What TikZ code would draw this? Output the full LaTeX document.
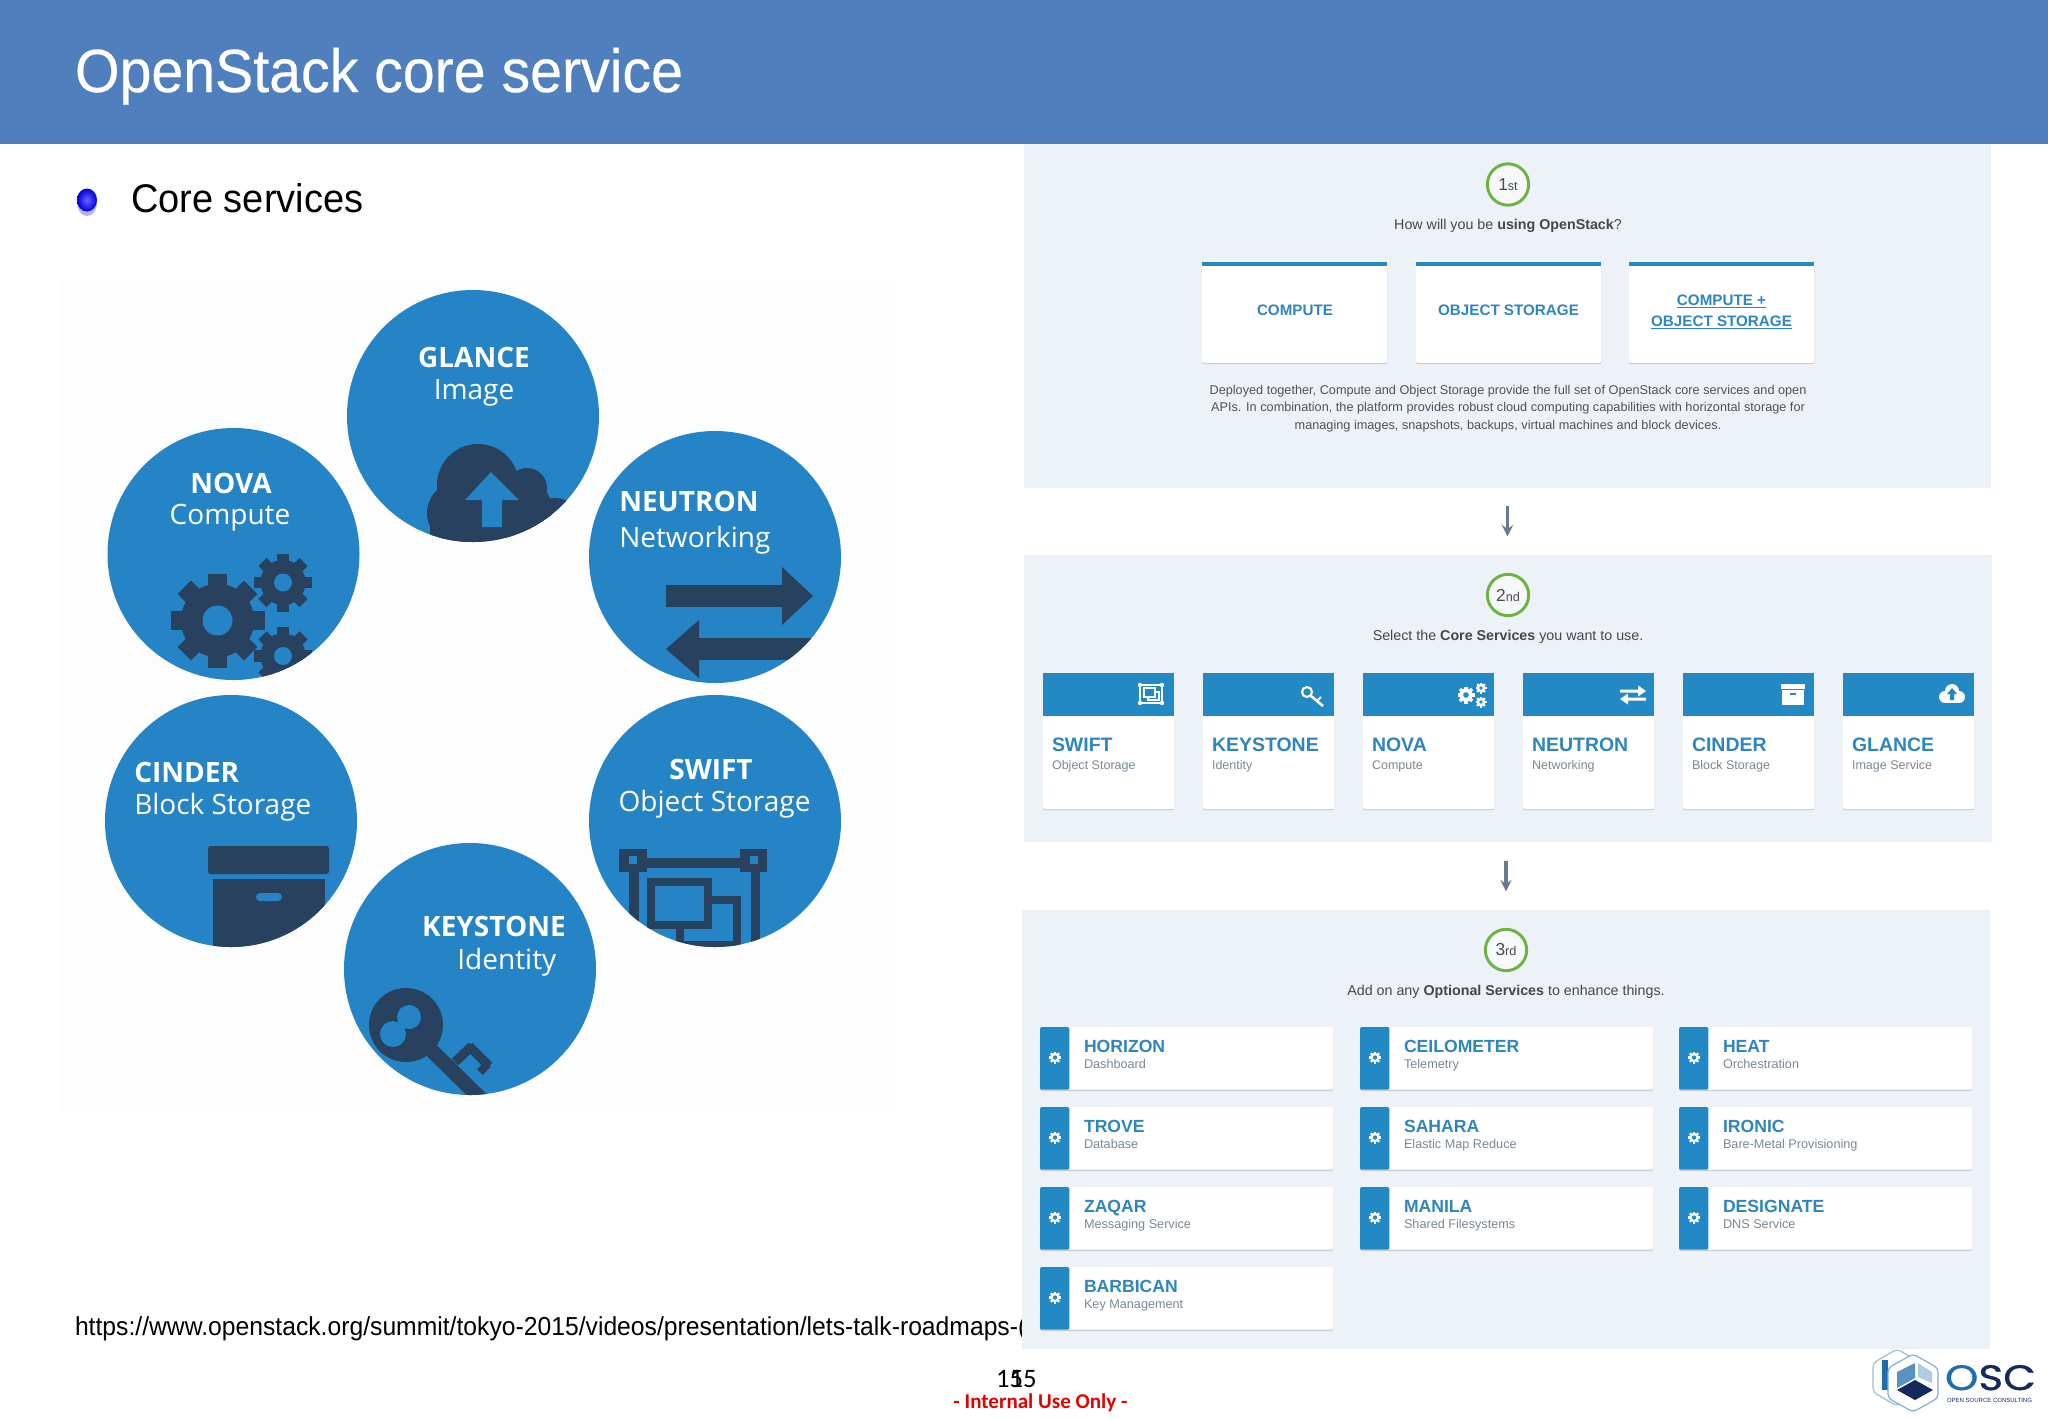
\documentclass[tikz,border=0pt]{standalone}
\usepackage{fontspec}
\setmainfont{Liberation Sans}
\newfontfamily\slidefont[FakeStretch=0.95]{Liberation Sans}
\newfontfamily\titlefont[FakeStretch=0.94,FakeBold=0.4]{Liberation Sans}
\newfontfamily\discfont{Open Sans}
\newfontfamily\footfont{Carlito}
\newfontfamily\oscfont[FakeStretch=1.2,FakeBold=1]{Poppins}
\usetikzlibrary{positioning,shadows}

\definecolor{headblue}{HTML}{4F7FBC}
\definecolor{discblue}{HTML}{2484C6}
\definecolor{discdark}{HTML}{27415F}
\definecolor{panelgrey}{HTML}{EDF2F9}
\definecolor{cardblue}{HTML}{2389C4}
\definecolor{nameblue}{HTML}{2E86BE}
\definecolor{subgrey}{HTML}{7A8894}
\definecolor{ringgreen}{HTML}{6CB33F}
\definecolor{oscblue}{HTML}{1E6DB0}
\definecolor{oscnavy}{HTML}{15295C}
\definecolor{picfaint}{HTML}{FDFDFE}

\tikzset{
  plain/.style={inner sep=0pt,outer sep=0pt,anchor=base},
  plainleft/.style={plain,anchor=base west},
  disc/.style={circle,fill=discblue,inner sep=0pt,minimum size=189pt},
  disctitle/.style={font=\discfont\bfseries\fontsize{21}{21}\selectfont,text=white,inner sep=0pt,anchor=base},
  discsub/.style={font=\discfont\fontsize{21}{21}\selectfont,text=white,inner sep=0pt,anchor=base},
  panelbox/.style={fill=panelgrey,inner sep=0pt,outer sep=0pt},
  stepring/.style={circle,draw=ringgreen,line width=2.2pt,fill=panelgrey!50!white,inner sep=0pt,minimum size=31pt,text=black!70},
  steptext/.style={plain,font=\fontsize{10.7}{12}\selectfont,text=black!72},
  card/.style={fill=white,rounded corners=1.5pt,inner sep=0pt,outer sep=0pt,anchor=north west,
    drop shadow={shadow xshift=0pt,shadow yshift=-1pt,opacity=0.14,fill=black}},
  usecard/.style={card,minimum width=139pt,minimum height=76pt},
  corecard/.style={card,minimum width=98.25pt,minimum height=102pt},
  optcard/.style={card,minimum width=219.75pt,minimum height=47pt},
  uselabel/.style={plain,font=\bfseries\fontsize{11.4}{12}\selectfont,text=nameblue},
  corename/.style={plainleft,font=\bfseries\fontsize{14.6}{15}\selectfont,text=nameblue},
  coresub/.style={plainleft,font=\fontsize{9.4}{10}\selectfont,text=subgrey},
  optname/.style={plainleft,font=\bfseries\fontsize{13.2}{14}\selectfont,text=nameblue},
  optsub/.style={plainleft,font=\fontsize{9.5}{10}\selectfont,text=subgrey},
  flowarrow/.style={-stealth,line width=2.7pt,draw=discdark!70!white},
}

\newcommand{\gearicon}[6]{
  \foreach \a in {0,45,...,315}
  {
    \fill[#5,rotate around={\a:(#1,#2)}] (#1-#3*0.2,#2) rectangle (#1+#3*0.2,#2-#3);
  }
  \fill[#5] (#1,#2) circle[radius=#3*0.78];
  \fill[#6] (#1,#2) circle[radius=#4];
}
\newcommand{\stepmark}[2]{{\fontsize{13}{13}\selectfont #1}{\fontsize{9.5}{9}\selectfont #2}}

\begin{document}
\begin{tikzpicture}[x=0.75pt,y=-0.75pt]
    \useasboundingbox (0,0) rectangle (2048,1418);

    % header
    \fill[headblue] (0,0) rectangle (2048,144);
    \node[plainleft,font=\titlefont\fontsize{45.7}{46}\selectfont,text=white] (title) at (75,92) {OpenStack core service};
    \fill[blue!30!white] (87,203) ellipse (10 and 13);
    \shade[inner color=blue!60!white,outer color=blue!85!black] (87,200) ellipse (10 and 11.5);
    \node[plainleft,font=\slidefont\fontsize{30}{30}\selectfont] (bullet) at (131,212.5) {Core services};

    % left picture
    \fill[picfaint] (60,281) rectangle (895,1113);
    \node[disc] (discglance) at (473,416) {};
    \node[disc] (discnova) at (233.5,554) {};
    \node[disc] (discneutron) at (715,557) {};
    \node[disc] (disccinder) at (231,821) {};
    \node[disc] (discswift) at (715,821) {};
    \node[disc] (disckeystone) at (470,969) {};

    \begin{scope}
      \clip (473,416) circle[radius=126];
      \fill[discdark] (478,485) circle[radius=41];
      \fill[discdark] (458,513) circle[radius=31];
      \fill[discdark] (527,488) circle[radius=20];
      \fill[discdark] (520,510) circle[radius=32];
      \fill[discdark] (555,525) circle[radius=27];
      \fill[discdark] (430,515) rectangle (590,560);
      \fill[discblue] (491,472) -- (519,500) -- (502,500) -- (502,527) -- (482,527) -- (482,500) -- (465,500) -- cycle;
    \end{scope}
    \begin{scope}
      \clip (233.5,554) circle[radius=126];
      \gearicon{217.5}{620.5}{47}{15}{discdark}{discblue}
      \gearicon{283}{582.5}{29}{9}{discdark}{discblue}
      \gearicon{283}{656}{29}{9}{discdark}{discblue}
    \end{scope}
    \begin{scope}
      \clip (715,557) circle[radius=126];
      \fill[discdark] (666,585) rectangle (783,607);
      \fill[discdark] (782,567) -- (813,596) -- (782,625) -- cycle;
      \fill[discdark] (699,638) rectangle (830,660);
      \fill[discdark] (699,620) -- (666,649) -- (699,678) -- cycle;
    \end{scope}
    \begin{scope}
      \clip (231,821) circle[radius=126];
      \fill[discdark,rounded corners=2pt] (208,846) rectangle (329,874);
      \fill[discdark] (213,879) rectangle (325,960);
      \fill[discblue,rounded corners=3pt] (256,893) rectangle (282,901);
    \end{scope}
    \begin{scope}
      \clip (715,821) circle[radius=126];
      \fill[discdark] (619,849) rectangle (647,872);
      \fill[discdark] (740,849) rectangle (767,872);
      \fill[discblue] (629,856) rectangle (637,864);
      \fill[discblue] (750,856) rectangle (758,864);
      \fill[discdark] (647,858) rectangle (740,868);
      \fill[discdark] (629,872) rectangle (639,960);
      \fill[discdark] (751,872) rectangle (760,960);
      \draw[discdark,line width=6pt] (651,882) rectangle (708,925);
      \draw[discdark,line width=6pt] (708,900) -- (737,900) -- (737,960);
      \draw[discdark,line width=6pt] (680,925) -- (680,945) -- (737,945);
    \end{scope}
    \begin{scope}
      \clip (470,969) circle[radius=126];
      \draw[discdark,line width=11pt] (418,1037) -- (482,1100);
      \fill[discdark] (406,1025) circle[radius=37];
      \fill[discblue] (393,1034) circle[radius=13];
      \fill[discblue] (409,1017) circle[radius=12];
      \draw[discdark,line width=7pt] (455,1062) -- (472,1046);
      \draw[discdark,line width=7pt] (469,1046) -- (489,1066);
      \draw[discdark,line width=6pt] (488,1064) -- (480,1072);
    \end{scope}

    \node[disctitle] (nameglance) at (474,367) {GLANCE};
    \node[discsub] (subglance) at (474,399) {Image};
    \node[disctitle] (namenova) at (231,493) {NOVA};
    \node[discsub] (subnova) at (230,524) {Compute};
    \node[disctitle,anchor=base west] (nameneutron) at (619,511) {NEUTRON};
    \node[discsub,anchor=base west] (subneutron) at (619,547) {Networking};
    \node[disctitle,anchor=base west] (namecinder) at (134,782) {CINDER};
    \node[discsub,anchor=base west] (subcinder) at (134,814) {Block Storage};
    \node[disctitle] (nameswift) at (711,779) {SWIFT};
    \node[discsub] (subswift) at (714.5,811) {Object Storage};
    \node[disctitle,anchor=base east] (namekeystone) at (566,936) {KEYSTONE};
    \node[discsub,anchor=base east] (subkeystone) at (556.5,969) {Identity};

    % footer
    \node[plainleft,font=\slidefont\fontsize{19.5}{20}\selectfont] (sourceurl) at (75,1335) {https://www.openstack.org/summit/tokyo-2015/videos/presentation/lets-talk-roadmaps-(};
    \node[plainleft,font=\footfont\fontsize{20}{20}\selectfont] (pageback) at (996,1387) {15};
    \node[plainleft,font=\footfont\fontsize{20}{20}\selectfont] (pagefront) at (1009.5,1387) {15};
    \node[plain,font=\footfont\bfseries\fontsize{15.8}{16}\selectfont,text=red!90!black] (internal) at (1040.5,1408) {- Internal Use Only -};

    % right panels
    \node[panelbox,minimum width=725.25pt,minimum height=258pt] (panelA) at (1507.5,316) {};
    \node[panelbox,minimum width=726pt,minimum height=215.25pt] (panelB) at (1508,698.5) {};
    \node[panelbox,minimum width=726pt,minimum height=329.25pt] (panelC) at (1506,1129.5) {};
    \draw[flowarrow,shorten <=13.5pt,shorten >=14pt] (panelA.south) -- (panelA.south |- panelB.north);
    \draw[flowarrow,shorten <=14pt,shorten >=14pt] (panelC.north |- panelB.south) -- (panelC.north);

    \node[stepring] (ringA) at (1508,184.5) {\stepmark{1}{st}};
    \node[stepring] (ringB) at (1508,595) {\stepmark{2}{nd}};
    \node[stepring] (ringC) at (1506,950) {\stepmark{3}{rd}};
    \node[steptext] (askA) at (1508,229) {How will you be \textbf{using OpenStack}?};
    \node[steptext] (askB) at (1508,640) {Select the \textbf{Core Services} you want to use.};
    \node[steptext] (askC) at (1506,995) {Add on any \textbf{Optional Services} to enhance things.};

    % first step
    \foreach \x/\i in {1202/a,1416/b,1629/c}
    {
      \node[usecard] (use\i) at (\x,261.5) {};
      \fill[cardblue] (use\i.north west) rectangle ([yshift=-3pt]use\i.north east);
    }
    \node[uselabel] (labela) at (1295,315.5) {COMPUTE};
    \node[uselabel] (labelb) at (1508.5,315.5) {OBJECT STORAGE};
    \node[uselabel] (labelc) at (1721.5,305) {\underline{COMPUTE +}};
    \node[uselabel] (labeld) at (1721.5,326) {\underline{OBJECT STORAGE}};
    \node[align=center,inner sep=0pt,font=\fontsize{9.53}{13.2}\selectfont,text=black!68] (blurb) at (1508,408.5)
      {Deployed together, Compute and Object Storage provide the full set of OpenStack core services and open\\
       APIs. In combination, the platform provides robust cloud computing capabilities with horizontal storage for\\
       managing images, snapshots, backups, virtual machines and block devices.};

    % second step
    \foreach \x/\cname/\csub in {1043/SWIFT/Object Storage,1203/KEYSTONE/Identity,1363/NOVA/Compute,1523/NEUTRON/Networking,1683/CINDER/Block Storage,1843/GLANCE/Image Service}
    {
      \node[corecard] (core\cname) at (\x,673) {};
      \fill[cardblue] (core\cname.north west) rectangle ([yshift=-32.25pt]core\cname.north east);
      \node[corename] (corename\cname) at (\x+9,751) {\cname};
      \node[coresub] (coresub\cname) at (\x+9,769) {\csub};
    }
    % icons of the cards
    \draw[white,line width=0.8pt] (1140,685) rectangle (1162,703);
    \draw[white,line width=0.8pt] (1144,688) rectangle (1155,697);
    \draw[white,line width=0.8pt] (1155,692) -- (1159,692) -- (1159,700) -- (1148,700) -- (1148,697);
    \foreach \x/\y in {1140/685,1162/685,1140/703,1162/703}
    {
      \fill[white] (\x,\y) circle[radius=2.2];
    }
    \draw[white,line width=1.6pt] (1307,692) circle[radius=5];
    \draw[white,line width=1.9pt] (1311,696) -- (1323,706);
    \draw[white,line width=1.4pt] (1317,701) -- (1321,697);
    \gearicon{1466}{695}{8.5}{2.8}{white}{cardblue}
    \gearicon{1481}{688}{5.5}{1.8}{white}{cardblue}
    \gearicon{1481}{702}{5.5}{1.8}{white}{cardblue}
    \fill[white] (1620,689.5) -- (1638,689.5) -- (1638,685.5) -- (1646,691) -- (1638,696.5) -- (1638,692.5) -- (1620,692.5) -- cycle;
    \fill[white] (1646,697.5) -- (1628,697.5) -- (1628,693.5) -- (1620,699) -- (1628,704.5) -- (1628,700.5) -- (1646,700.5) -- cycle;
    \fill[white] (1781,684) rectangle (1805,689);
    \fill[white] (1782,690) rectangle (1804,705);
    \fill[cardblue] (1790,693) rectangle (1796,694.5);
    \fill[white] (1952,691) circle[radius=7];
    \fill[white] (1945,697) circle[radius=6];
    \fill[white] (1959,697) circle[radius=6];
    \fill[white] (1945,697) rectangle (1959,703);
    \fill[cardblue] (1952,688) -- (1957,694) -- (1954,694) -- (1954,700) -- (1950,700) -- (1950,694) -- (1947,694) -- cycle;

    % third step
    \foreach \x/\y/\cname/\csub in {1040/1027/HORIZON/Dashboard,1360/1027/CEILOMETER/Telemetry,1679/1027/HEAT/Orchestration,
        1040/1107/TROVE/Database,1360/1107/SAHARA/Elastic Map Reduce,1679/1107/IRONIC/Bare-Metal Provisioning,
        1040/1187/ZAQAR/Messaging Service,1360/1187/MANILA/Shared Filesystems,1679/1187/DESIGNATE/DNS Service,
        1040/1267/BARBICAN/Key Management}
    {
      \node[optcard] (opt\cname) at (\x,\y) {};
      \fill[cardblue,rounded corners=1pt] (opt\cname.north west) rectangle ([xshift=22pt]opt\cname.south west);
      \gearicon{\x+15}{\y+30.5}{6}{2.2}{white}{cardblue}
      \node[optname] (optname\cname) at (\x+44,\y+25) {\cname};
      \node[optsub] (optsub\cname) at (\x+44,\y+41.5) {\csub};
    }

    % logo
    \draw[oscblue!45!white,line width=0.9pt,rounded corners=3pt] (1897,1349) -- (1873,1363) -- (1873,1392) -- (1897,1406) -- (1921,1392) -- (1921,1363) -- cycle;
    \fill[oscblue] (1882,1360) rectangle (1888,1390);
    \draw[oscblue!55!white,fill=white,line width=0.9pt,rounded corners=3pt] (1913,1354) -- (1938,1368) -- (1938,1398) -- (1913,1412) -- (1888,1398) -- (1888,1368) -- cycle;
    \fill[oscblue!75!white] (1915,1363) -- (1897,1372) -- (1897,1388) -- (1915,1378) -- cycle;
    \fill[oscblue!35!white] (1918,1363) -- (1932,1372) -- (1932,1383) -- (1918,1377) -- cycle;
    \fill[oscnavy] (1915,1380) -- (1933,1390) -- (1915,1400) -- (1897,1390) -- cycle;
    \node[plainleft,font=\oscfont\fontsize{26.5}{27}\selectfont] (osc) at (1945,1390) {\textcolor{oscblue}{O}\textcolor{oscnavy}{SC}};
    \node[plainleft,font=\fontsize{4.5}{5}\selectfont,text=oscnavy] (oscsub) at (1947,1402) {OPEN SOURCE CONSULTING};
\end{tikzpicture}
\end{document}
